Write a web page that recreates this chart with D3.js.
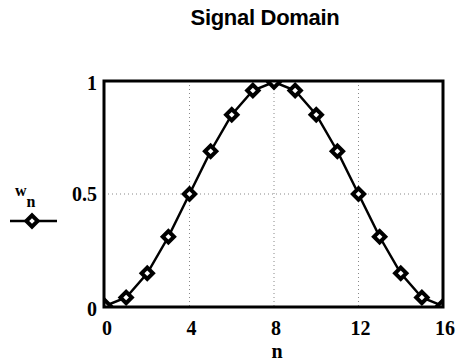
<!DOCTYPE html>
<html>
<head>
<meta charset="utf-8">
<script src="https://cdn.jsdelivr.net/npm/d3@7"></script>
<style>
  body { margin: 0; background: #fff; }
  .tick-label { font-family: "Liberation Serif", "Times New Roman", serif; font-weight: bold; font-size: 20px; }
</style>
</head>
<body>
<svg id="chart" width="457" height="363"></svg>
<script>
// sample index and window value
var nValues = [0, 1, 2, 3, 4, 5, 6, 7, 8, 9, 10, 11, 12, 13, 14, 15, 16];
var wValues = [0, 0.038, 0.146, 0.309, 0.5, 0.691, 0.854, 0.962, 1, 0.962, 0.854, 0.691, 0.5, 0.309, 0.146, 0.038, 0];
var xTicks = [0, 4, 8, 12, 16];
var yTicks = [0, 0.5, 1];
var xGrid = [4, 8, 12];
var yGrid = [0.5];

var svg = d3.select('#chart');

var frame = {left: 104, right: 443, top: 81, bottom: 307};

var xScale = d3.scaleLinear()
    .domain([0, 16])
    .range([105, 443]);

var yScale = d3.scaleLinear()
    .domain([0, 1])
    .range([306, 82]);

var data = nValues.map(function (n, i) {
    return {n: n, w: wValues[i]};
});

// title
svg.append('text')
    .attr('x', 265)
    .attr('y', 25)
    .attr('text-anchor', 'middle')
    .style('font-family', '"Liberation Sans", Arial, sans-serif')
    .style('font-weight', 'bold')
    .style('font-size', '22px')
    .style('letter-spacing', '-0.3px')
    .text('Signal Domain');

// dotted grid
svg.append('g').selectAll('line')
    .data(xGrid)
    .enter()
    .append('line')
    .attr('x1', d => xScale(d))
    .attr('x2', d => xScale(d))
    .attr('y1', frame.top)
    .attr('y2', frame.bottom)
    .attr('stroke', '#888')
    .attr('stroke-width', 1)
    .attr('stroke-dasharray', '1,3');

svg.append('g').selectAll('line')
    .data(yGrid)
    .enter()
    .append('line')
    .attr('x1', frame.left)
    .attr('x2', frame.right)
    .attr('y1', d => yScale(d))
    .attr('y2', d => yScale(d))
    .attr('stroke', '#888')
    .attr('stroke-width', 1)
    .attr('stroke-dasharray', '1,3');

svg.append('clipPath')
    .attr('id', 'plotclip')
    .append('rect')
    .attr('x', frame.left)
    .attr('y', frame.top)
    .attr('width', frame.right - frame.left)
    .attr('height', frame.bottom - frame.top);

var plot = svg.append('g').attr('clip-path', 'url(#plotclip)');

var line = d3.line()
    .x(d => xScale(d.n))
    .y(d => yScale(d.w));

plot.append('path')
    .datum(data)
    .attr('fill', 'none')
    .attr('stroke', '#000')
    .attr('stroke-width', 2.5)
    .attr('d', line);

// square diamond marker, rotated 45 degrees
var diamond = d3.symbol().type(d3.symbolSquare).size(64);

plot.append('g').selectAll('path')
    .data(data)
    .enter()
    .append('path')
    .attr('d', diamond)
    .attr('transform', d => `translate(${xScale(d.n)},${yScale(d.w)}) rotate(45)`)
    .attr('fill', '#fff')
    .attr('stroke', '#000')
    .attr('stroke-width', 4);

// frame
svg.append('rect')
    .attr('x', frame.left)
    .attr('y', frame.top)
    .attr('width', frame.right - frame.left)
    .attr('height', frame.bottom - frame.top)
    .attr('fill', 'none')
    .attr('stroke', '#000')
    .attr('stroke-width', 3);

// tick labels
svg.append('g').selectAll('text')
    .data(xTicks)
    .enter()
    .append('text')
    .attr('class', 'tick-label')
    .attr('x', d => xScale(d) + 2)
    .attr('y', 335)
    .attr('text-anchor', 'middle')
    .text(d => d);

svg.append('g').selectAll('text')
    .data(yTicks)
    .enter()
    .append('text')
    .attr('class', 'tick-label')
    .attr('x', 97)
    .attr('y', d => yScale(d) + 7 + (d === 0 ? 3 : 0) + (d === 1 ? 1 : 0))
    .attr('text-anchor', 'end')
    .text(d => d);

// axis label
svg.append('text')
    .attr('class', 'tick-label')
    .attr('x', 277)
    .attr('y', 358)
    .attr('text-anchor', 'middle')
    .text('n');

// legend
var legend = svg.append('g');
var legendText = legend.append('text')
    .attr('x', 15)
    .attr('y', 196)
    .style('font-family', '"Liberation Serif", "Times New Roman", serif')
    .style('font-weight', 'bold')
    .style('font-size', '16px')
    .text('w');
legendText.append('tspan')
    .attr('dx', 0)
    .attr('dy', 11)
    .text('n');
legend.append('line')
    .attr('x1', 10)
    .attr('x2', 57)
    .attr('y1', 221)
    .attr('y2', 221)
    .attr('stroke', '#000')
    .attr('stroke-width', 2.5);
legend.append('path')
    .attr('d', diamond)
    .attr('transform', 'translate(32,221) rotate(45)')
    .attr('fill', '#fff')
    .attr('stroke', '#000')
    .attr('stroke-width', 4);
</script>
</body>
</html>
